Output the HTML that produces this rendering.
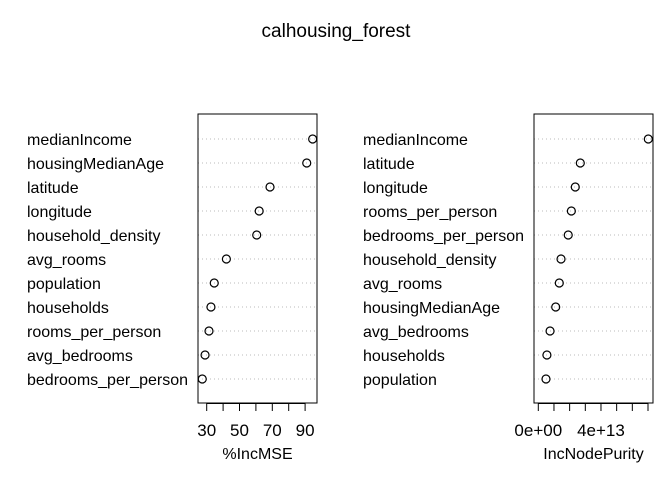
<!DOCTYPE html>
<html><head><meta charset="utf-8"><style>
body{margin:0;background:#fff}
svg text{font-family:"Liberation Sans",Arial,sans-serif;fill:#000}
</style></head><body>
<svg id="c" width="672" height="480" xmlns="http://www.w3.org/2000/svg">
<text x="336" y="37" font-size="19" text-anchor="middle">calhousing_forest</text>
</svg>
<script>
const leftLabels=["medianIncome","housingMedianAge","latitude","longitude","household_density","avg_rooms","population","households","rooms_per_person","avg_bedrooms","bedrooms_per_person"];
const leftValues=[94.6,91,68.6,62,60.5,42,34.6,32.6,31.4,29,27.3];
const leftTicks=[30,40,50,60,70,80,90];
const leftTickLabels=["30","50","70","90"];
const rightLabels=["medianIncome","latitude","longitude","rooms_per_person","bedrooms_per_person","household_density","avg_rooms","housingMedianAge","avg_bedrooms","households","population"];
const rightValues=[7.02e13,2.68e13,2.36e13,2.11e13,1.91e13,1.45e13,1.34e13,1.11e13,0.75e13,0.55e13,0.49e13];
const rightTicks=[0,1e13,2e13,3e13,4e13,5e13,6e13,7e13];
const rightTickLabels=[[0,"0e+00"],[4e13,"4e+13"]];
const leftTickLabelVals=[30,50,70,90];

const svg=document.getElementById('c');
const NS="http://www.w3.org/2000/svg";
function mk(t,a,p){const e=document.createElementNS(NS,t);for(const k in a)e.setAttribute(k,a[k]);(p||svg).appendChild(e);return e;}
const rowY=i=>139+i*24;

function panel(pfx,box,sx,labels,values,labelX,ticks,tlabels,title){
  const g=mk('g',{});
  
  
  labels.forEach((l,i)=>{
    const ln=mk('line',{x1:box[0],x2:box[1],y1:rowY(i),y2:rowY(i),stroke:'#bbb','stroke-dasharray':'1 3','stroke-width':1},g);
    
    
    const t=mk('text',{x:labelX,y:rowY(i)+6,'font-size':16},g);t.textContent=l;
    
    
    const c=mk('circle',{cx:sx(values[i]),cy:rowY(i),r:4,fill:'none',stroke:'#000','stroke-width':1.2},g);
    
    
  });
  const r=mk('rect',{x:box[0],y:114,width:box[1]-box[0],height:289,fill:'none',stroke:'#000','stroke-width':1},g);
  
  
  const ax=mk('line',{x1:sx(ticks[0]),x2:sx(ticks[ticks.length-1]),y1:403.5,y2:403.5,stroke:'#000'},g);
  
  
  ticks.forEach(v=>{
    const tk=mk('line',{x1:sx(v),x2:sx(v),y1:403,y2:411,stroke:'#000'},g);
    
    
  });
  tlabels.forEach(([v,s])=>{
    const t=mk('text',{x:sx(v),y:436,'font-size':17,'text-anchor':'middle'},g);t.textContent=s;
    
    
  });
  const at=mk('text',{x:(box[0]+box[1])/2,y:459,'font-size':16,'text-anchor':'middle'},g);at.textContent=title;
  
  
}
const sxL=v=>206.7+(v-30)*1.64;
const sxR=v=>538.3+v/1e13*15.67;
panel('left',[198,317],sxL,leftLabels,leftValues,27,leftTicks,leftTickLabelVals.map((v,i)=>[v,leftTickLabels[i]]),'%IncMSE');
panel('right',[534,653],sxR,rightLabels,rightValues,363,rightTicks,rightTickLabels,'IncNodePurity');
</script>
</body></html>
